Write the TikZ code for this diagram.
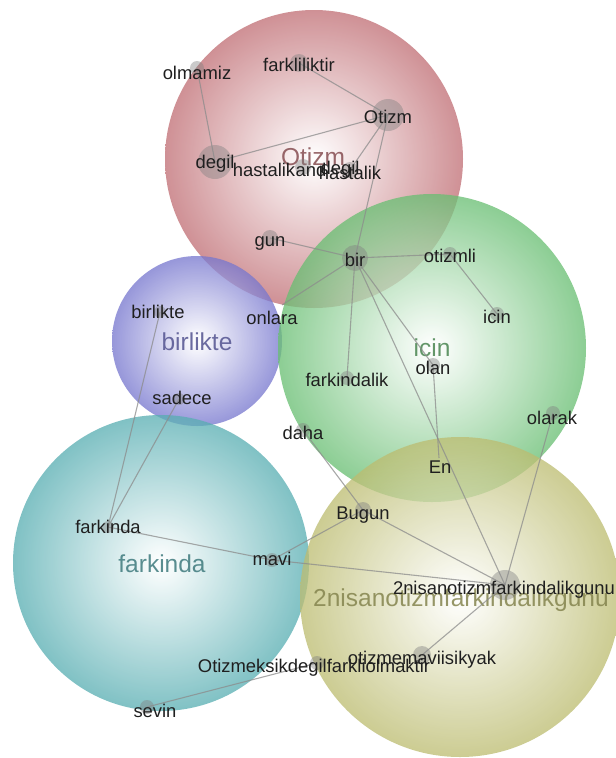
\documentclass[tikz,border=0pt]{standalone}
\usepackage{fontspec}
\setmainfont{Liberation Sans}
\usepackage{xcolor}
\usetikzlibrary{positioning}
\definecolor{otizmred}{RGB}{192,110,116}
\definecolor{birlikteblue}{RGB}{118,118,206}
\definecolor{icingreen}{RGB}{104,190,114}
\definecolor{farkindateal}{RGB}{88,174,178}
\definecolor{nisanolive}{RGB}{188,188,112}
\tikzset{
  cluster/.style={draw=none, fill opacity=0.76},
  worddot/.style={circle, draw=none, fill=black!50, fill opacity=0.42, inner sep=0pt},
  wordlabel/.style={inner sep=0pt, text=black!88, font=\fontsize{18.4}{20}\selectfont},
  biglabel/.style={inner sep=0pt, text opacity=0.85, font=\fontsize{24.5}{27}\selectfont},
  link/.style={draw=black!45, line width=1.1pt, draw opacity=0.75}
}
\begin{document}
\begin{tikzpicture}[x=1pt,y=-1pt]
\useasboundingbox (0,0) rectangle (616,758);
\clip (0,0) rectangle (616,758);

% topic circles
\shade[cluster, inner color=white, outer color=otizmred] (314,159) circle (149pt);
\shade[cluster, inner color=white, outer color=birlikteblue] (197,341) circle (85pt);
\shade[cluster, inner color=white, outer color=icingreen] (432,348) circle (154pt);
\shade[cluster, inner color=white, outer color=farkindateal] (161,563) circle (148pt);
\shade[cluster, inner color=white, outer color=nisanolive] (460,597) circle (160pt);

% topic names
\node[biglabel, text=otizmred!70!black] (t-otizm) at (313,157) {Otizm};
\node[biglabel, text=birlikteblue!70!black] (t-birlikte) at (197,342) {birlikte};
\node[biglabel, text=icingreen!70!black] (t-icin) at (432,348) {icin};
\node[biglabel, text=farkindateal!70!black] (t-farkinda) at (162,564) {farkinda};
\node[biglabel, text=nisanolive!70!black] (t-nisan) at (461,600) {2nisanotizmfarkindalikgunu};

% word dots
\node[worddot, minimum size=18pt] (d-farkliliktir) at (299,63) {};
\node[worddot, minimum size=14pt] (d-olmamiz) at (197,68) {};
\node[worddot, minimum size=32pt] (d-otizm) at (388,115) {};
\node[worddot, minimum size=34pt] (d-degil) at (215,162) {};
\node[worddot, minimum size=16pt] (d-and) at (303,167) {};
\node[worddot, minimum size=16pt] (d-hastalik) at (350,170) {};
\node[worddot, minimum size=16pt] (d-gun) at (270,238) {};
\node[worddot, minimum size=26pt] (d-bir) at (355,258) {};
\coordinate (d-onlara) at (282,305);
\node[worddot, minimum size=14pt] (d-otizmli) at (450,254) {};
\node[worddot, minimum size=14pt] (d-icin) at (497,314) {};
\node[worddot, minimum size=12pt] (d-birlikte) at (160,312) {};
\node[worddot, minimum size=14pt] (d-olan) at (433,365) {};
\node[worddot, minimum size=14pt] (d-farkindalik) at (347,378) {};
\node[worddot, minimum size=12pt] (d-sadece) at (179,399) {};
\node[worddot, minimum size=14pt] (d-daha) at (303,430) {};
\node[worddot, minimum size=14pt] (d-olarak) at (553,413) {};
\coordinate (d-en) at (439,458);
\node[worddot, minimum size=16pt] (d-bugun) at (363,510) {};
\node[worddot, minimum size=12pt] (d-farkinda) at (108,527) {};
\node[worddot, minimum size=14pt] (d-mavi) at (272,560) {};
\node[worddot, minimum size=30pt] (d-nisan) at (505,585) {};
\node[worddot, minimum size=18pt] (d-mavisik) at (422,655) {};
\node[worddot, minimum size=14pt] (d-eksik) at (317,663) {};
\node[worddot, minimum size=14pt] (d-sevin) at (147,707) {};

% links
\draw[link] (d-olmamiz.center) -- (d-degil.center);
\draw[link] (d-farkliliktir.center) -- (d-otizm.center);
\draw[link] (d-degil.center) -- (d-otizm.center);
\draw[link] (d-otizm.center) -- (d-hastalik.center);
\draw[link] (d-otizm.center) -- (d-bir.center);
\draw[link] (d-gun.center) -- (d-bir.center);
\draw[link] (d-bir.center) -- (d-otizmli.center);
\draw[link] (d-bir.center) -- (d-onlara);
\draw[link] (d-bir.center) -- (d-farkindalik.center);
\draw[link] (d-bir.center) -- (d-olan.center);
\draw[link] (d-bir.center) -- (d-nisan.center);
\draw[link] (d-olan.center) -- (d-en);
\draw[link] (d-otizmli.center) -- (d-icin.center);
\draw[link] (d-olarak.center) -- (d-nisan.center);
\draw[link] (d-daha.center) -- (d-bugun.center);
\draw[link] (d-bugun.center) -- (d-mavi.center);
\draw[link] (d-bugun.center) -- (d-nisan.center);
\draw[link] (d-mavi.center) -- (d-nisan.center);
\draw[link] (d-farkinda.center) -- (d-mavi.center);
\draw[link] (d-farkinda.center) -- (d-birlikte.center);
\draw[link] (d-farkinda.center) -- (d-sadece.center);
\draw[link] (d-nisan.center) -- (d-mavisik.center);
\draw[link] (d-eksik.center) -- (d-sevin.center);

% word labels
\node[wordlabel] (farkliliktir) at (299,65) {farkliliktir};
\node[wordlabel] (olmamiz) at (197,73) {olmamiz};
\node[wordlabel] (otizm) at (388,117) {Otizm};
\node[wordlabel] (degil) at (215,164) {degil};
\node[wordlabel] (hastalik) at (264,170) {hastalik};
\node[wordlabel] (and) at (311,170) {and};
\node[wordlabel] (degilb) at (340,170) {degil};
\node[wordlabel] (hastalikb) at (350,173) {hastalik};
\node[wordlabel] (gun) at (270,243) {gun};
\node[wordlabel] (bir) at (355,260) {bir};
\node[wordlabel] (otizmli) at (450,256) {otizmli};
\node[wordlabel] (onlara) at (272,318) {onlara};
\node[wordlabel] (birlikte) at (158,312) {birlikte};
\node[wordlabel] (icin) at (497,317) {icin};
\node[wordlabel] (olan) at (433,368) {olan};
\node[wordlabel] (farkindalik) at (347,380) {farkindalik};
\node[wordlabel] (sadece) at (182,398) {sadece};
\node[wordlabel] (daha) at (303,433) {daha};
\node[wordlabel] (olarak) at (552,418) {olarak};
\node[wordlabel] (en) at (440,467) {En};
\node[wordlabel] (bugun) at (363,515) {Bugun};
\node[wordlabel] (farkinda) at (108,527) {farkinda};
\node[wordlabel] (mavi) at (272,559) {mavi};
\node[wordlabel] (nisan) at (504,590) {2nisanotizmfarkindalikgunu};
\node[wordlabel] (mavisik) at (422,660) {otizmemaviisikyak};
\node[wordlabel] (eksik) at (314,668) {Otizmeksikdegilfarkliolmaktir};
\node[wordlabel] (sevin) at (155,711) {sevin};
\end{tikzpicture}
\end{document}
